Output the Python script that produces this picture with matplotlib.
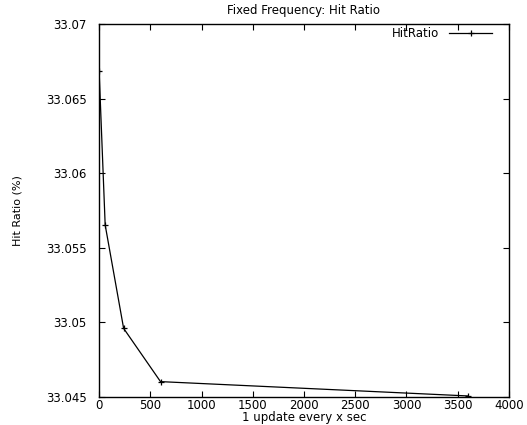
import matplotlib
matplotlib.use("Agg")
import matplotlib.pyplot as plt
from matplotlib.ticker import MultipleLocator, FuncFormatter

# Hit ratio measured at different update intervals
update_interval = [1, 60, 240, 600, 3600]
hit_ratio = [33.06685, 33.05653, 33.0496, 33.04603, 33.04507]
series_label = "HitRatio"

fig = plt.figure(figsize=(5.27, 4.25), dpi=100)
ax = fig.add_axes([0.1879, 0.0659, 0.9658 - 0.1879, 0.9435 - 0.0659])

ax.plot(update_interval, hit_ratio, color="black", linewidth=0.9,
        marker="+", markersize=5, markeredgewidth=0.9, label=series_label)

ax.set_xlim(0, 4000)
ax.set_ylim(33.045, 33.07)
ax.xaxis.set_major_locator(MultipleLocator(500))
ax.yaxis.set_major_locator(MultipleLocator(0.005))
ax.yaxis.set_major_formatter(FuncFormatter(lambda v, p: f"{v:.3f}".rstrip("0")))

ax.tick_params(direction="in", top=True, right=True, length=4, width=0.8,
               labelsize=8.5)
ax.tick_params(axis="x", pad=1.5)
ax.tick_params(axis="y", pad=9)
for s in ax.spines.values():
    s.set_linewidth(1.0)
    s.set_color("black")

ax.set_title("Fixed Frequency: Hit Ratio", fontsize=8.5, pad=7)
ax.set_xlabel("1 update every x sec", fontsize=8.5, labelpad=-1)
ax.set_ylabel("Hit Ratio (%)", fontsize=8, labelpad=17)

leg = ax.legend(loc="upper right", frameon=False, fontsize=8.5, markerfirst=False,
                handlelength=3.6, borderaxespad=0.0, handletextpad=0.9,
                bbox_to_anchor=(0.97, 1.005))

fig.savefig("out.png", dpi=100)
